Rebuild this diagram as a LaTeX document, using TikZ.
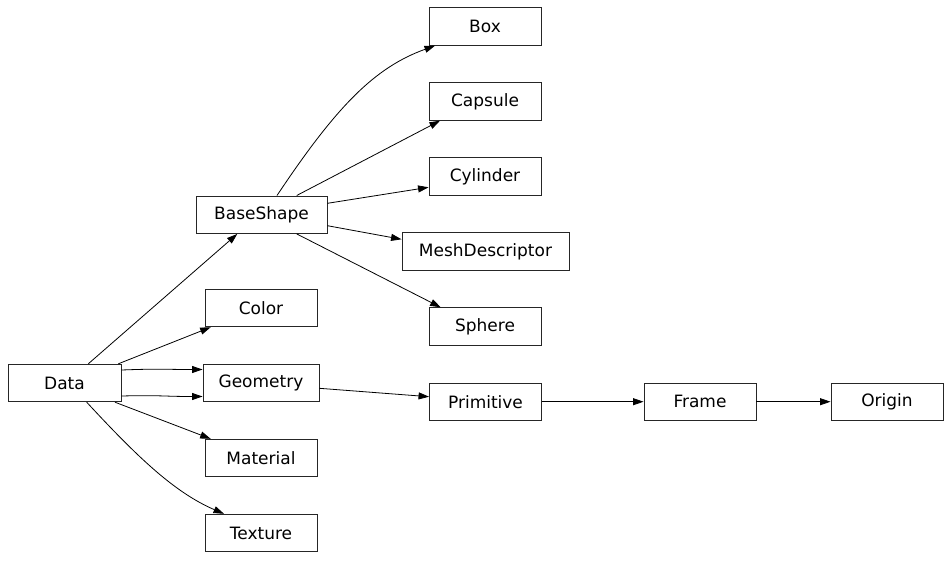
\documentclass[tikz,border=0pt]{standalone}
\usepackage{fontspec}
\setmainfont{DejaVu Sans}
\usetikzlibrary{arrows.meta}
\begin{document}
\begin{tikzpicture}[x=1pt,y=-1pt,
  cls/.style={draw=black!85,line width=0.9pt,minimum height=37.5pt,inner sep=0pt,
    font=\fontsize{17}{18}\selectfont,fill=white},
  edge/.style={draw=black,line width=0.8pt,-{Triangle[length=10.5pt,width=7pt]}}]
\useasboundingbox (0,0) rectangle (952,560);
\node[cls,minimum width=113pt] (data) at (64.5,383) {Data};
\node[cls,minimum width=131pt] (bs) at (261.5,214.7) {BaseShape};
\node[cls,minimum width=112pt] (color) at (261,308) {Color};
\node[cls,minimum width=116pt] (geometry) at (261,383) {Geometry};
\node[cls,minimum width=112pt] (material) at (261,458) {Material};
\node[cls,minimum width=112pt] (texture) at (261,533) {Texture};
\node[cls,minimum width=112pt] (box) at (485,26.5) {Box};
\node[cls,minimum width=112pt] (capsule) at (485,101.5) {Capsule};
\node[cls,minimum width=112pt] (cylinder) at (485,176.5) {Cylinder};
\node[cls,minimum width=167pt] (mesh) at (485.5,251.5) {MeshDescriptor};
\node[cls,minimum width=112pt] (sphere) at (485,326.5) {Sphere};
\node[cls,minimum width=112pt] (primitive) at (485.5,401.7) {Primitive};
\node[cls,minimum width=112pt] (frame) at (700,401.7) {Frame};
\node[cls,minimum width=112pt] (origin) at (887,401.7) {Origin};

\draw[edge] ([xshift=23.8pt]data.north) -- ([xshift=-24.2pt]bs.south);
\draw[edge] ([xshift=53.8pt]data.north) -- ([xshift=-50.3pt]color.south);
\draw[edge] ([yshift=13pt]data.east) .. controls +(40pt,1.5pt) and +(-40pt,0pt) .. ([yshift=13.5pt]geometry.west);
\draw[edge] ([yshift=-13pt]data.east) .. controls +(40pt,1pt) and +(-40pt,0pt) .. ([yshift=-13.5pt]geometry.west);
\draw[edge] ([xshift=50.5pt]data.south) -- ([xshift=-50.3pt]material.north);
\draw[edge] ([xshift=22.2pt]data.south) .. controls +(50pt,-54pt) and +(-50pt,21.5pt) .. ([xshift=-37pt]texture.north);

\draw[edge] ([xshift=15.5pt]bs.north) .. controls +(60pt,90pt) and +(-60pt,-21.6pt) .. ([xshift=-50pt]box.south);
\draw[edge] ([xshift=35.2pt]bs.north) -- ([xshift=-45pt]capsule.south);
\draw[edge] ([yshift=11.4pt]bs.east) -- ([yshift=-10.8pt]cylinder.west);
\draw[edge] ([yshift=-11pt]bs.east) -- ([yshift=12.2pt]mesh.west);
\draw[edge] ([xshift=35.2pt]bs.south) -- ([xshift=-44.3pt]sphere.north);

\draw[edge] ([yshift=-5.3pt]geometry.east) -- ([yshift=5pt]primitive.west);
\draw[edge] (primitive) -- (frame);
\draw[edge] (frame) -- (origin);
\end{tikzpicture}
\end{document}
